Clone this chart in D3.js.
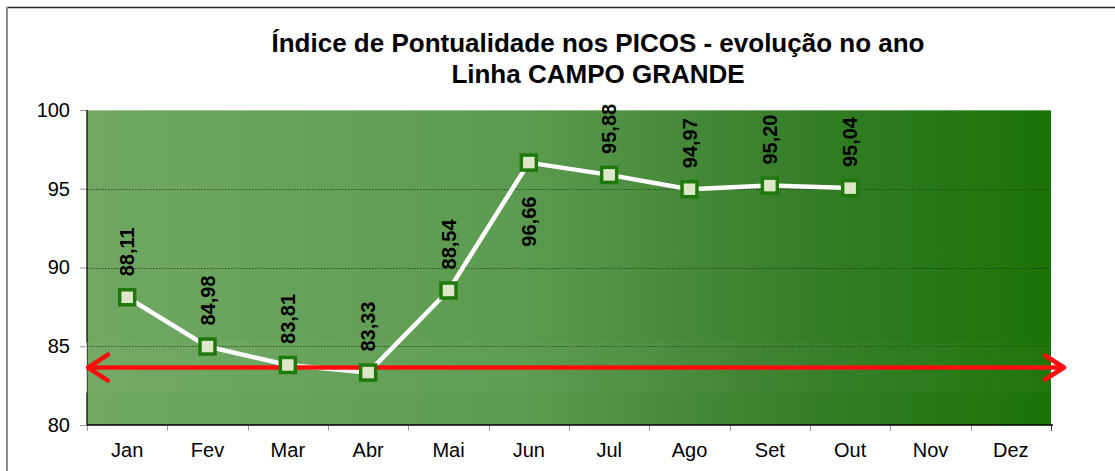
<!DOCTYPE html>
<html>
<head>
<meta charset="utf-8">
<script src="https://cdn.jsdelivr.net/npm/d3@7"></script>
<style>
  html, body { margin: 0; padding: 0; background: #fff; }
  svg text { font-family: "Liberation Sans", Arial, sans-serif; }
</style>
</head>
<body>
<svg id="chart" width="1115" height="471"></svg>
<script>
// Monthly punctuality index at peak hours
const meses = ["Jan", "Fev", "Mar", "Abr", "Mai", "Jun", "Jul", "Ago", "Set", "Out", "Nov", "Dez"];
const indice = [88.11, 84.98, 83.81, 83.33, 88.54, 96.66, 95.88, 94.97, 95.20, 95.04, null, null];
const yTicks = [80, 85, 90, 95, 100];
const meta = 83.65;            // reference level marked by the red arrow
const rotulosAbaixo = ["Jun"]; // months whose value label sits below the marker
const titulo = ["Índice de Pontualidade nos PICOS - evolução no ano", "Linha CAMPO GRANDE"];

const svg = d3.select("#chart");
const plot = { left: 87, right: 1051, top: 110, bottom: 425 };

const x = d3.scaleBand().domain(meses).range([plot.left, plot.right]);
const y = d3.scaleLinear().domain([80, 100]).range([plot.bottom, plot.top]);
const cx = m => x(m) + x.bandwidth() / 2;

const defs = svg.append("defs");
const grad = defs.append("linearGradient").attr("id", "fundo")
  .attr("x1", 0).attr("x2", 1).attr("y1", 0).attr("y2", 0);
grad.append("stop").attr("offset", 0).attr("stop-color", "#70a863");
grad.append("stop").attr("offset", 0.45).attr("stop-color", "#5c9b4f");
grad.append("stop").attr("offset", 0.75).attr("stop-color", "#357d28");
grad.append("stop").attr("offset", 1).attr("stop-color", "#1a7305");
defs.append("filter").attr("id", "suave")
  .append("feGaussianBlur").attr("stdDeviation", 0.6);

// chart frame
svg.append("line").attr("x1", 7).attr("x2", 1115).attr("y1", 7.5).attr("y2", 7.5)
  .attr("stroke", "#2b2b2b").attr("stroke-width", 1.5);
svg.append("line").attr("x1", 7).attr("x2", 7).attr("y1", 7).attr("y2", 471)
  .attr("stroke", "#8a8a8a").attr("stroke-width", 2);

// title
svg.append("g").selectAll("text").data(titulo).join("text")
  .attr("x", 598).attr("y", (d, i) => 52 + i * 31)
  .attr("text-anchor", "middle")
  .attr("font-size", 26).attr("font-weight", "bold").attr("fill", "#000")
  .text(d => d);

// plot background
svg.append("rect")
  .attr("x", plot.left).attr("y", plot.top)
  .attr("width", plot.right - plot.left).attr("height", plot.bottom - plot.top)
  .attr("fill", "url(#fundo)");
svg.append("line").attr("x1", plot.left).attr("x2", plot.right)
  .attr("y1", plot.top + 0.5).attr("y2", plot.top + 0.5)
  .attr("stroke", "#ffffff").attr("stroke-opacity", 0.35);

// gridlines
svg.append("g").selectAll("line").data(yTicks.filter(t => t > 80 && t < 100)).join("line")
  .attr("x1", plot.left).attr("x2", plot.right)
  .attr("y1", d => Math.round(y(d)) + 0.5).attr("y2", d => Math.round(y(d)) + 0.5)
  .attr("stroke", "#1d3518").attr("stroke-opacity", 0.75)
  .attr("stroke-dasharray", "1.5,1.5");

// y axis
const yAxis = svg.append("g").attr("transform", `translate(${plot.left},0)`)
  .call(d3.axisLeft(y).tickValues(yTicks).tickSize(7).tickPadding(10).tickFormat(d3.format("d")));
yAxis.select(".domain").remove();
yAxis.selectAll(".tick line").attr("stroke", "#9a9a9a");
yAxis.selectAll(".tick text").attr("font-size", 20).attr("fill", "#000")
  .attr("font-family", "'Liberation Sans', Arial, sans-serif");
svg.append("line").attr("x1", plot.left).attr("x2", plot.left)
  .attr("y1", plot.top).attr("y2", plot.bottom)
  .attr("stroke", "#000").attr("stroke-width", 1.2);

// x axis
const xAxis = svg.append("g").attr("transform", `translate(0,${plot.bottom})`)
  .call(d3.axisBottom(x).tickSize(0).tickPadding(18));
xAxis.select(".domain").remove();
xAxis.selectAll(".tick text").attr("font-size", 20).attr("fill", "#000")
  .attr("font-family", "'Liberation Sans', Arial, sans-serif");
const limites = meses.map(m => x(m)).concat([plot.right]);
svg.append("g").selectAll("line").data(limites).join("line")
  .attr("x1", d => Math.round(d) + 0.5).attr("x2", d => Math.round(d) + 0.5)
  .attr("y1", plot.bottom).attr("y2", plot.bottom + 6)
  .attr("stroke", (d, i) => i === limites.length - 1 ? "#444" : "#9a9a9a");
svg.append("line").attr("x1", plot.left).attr("x2", plot.right + 2)
  .attr("y1", plot.bottom).attr("y2", plot.bottom)
  .attr("stroke", "#000").attr("stroke-width", 1.5);

// series line
const pontos = meses.map((m, i) => ({ m, v: indice[i] })).filter(d => d.v != null);
svg.append("path").datum(pontos)
  .attr("fill", "none").attr("stroke", "#ffffff").attr("stroke-width", 4.5)
  .attr("stroke-linejoin", "round")
  .attr("d", d3.line().x(d => cx(d.m)).y(d => y(d.v)));

// red double-headed arrow at the reference level
const ya = y(meta);
svg.append("rect").attr("x", plot.left - 1).attr("y", ya - 25)
  .attr("width", plot.right - plot.left + 3).attr("height", 50)
  .attr("fill", "#ffffff").attr("fill-opacity", 0.025);
svg.append("line").attr("x1", plot.left - 0.5).attr("x2", plot.left - 0.5)
  .attr("y1", ya - 25).attr("y2", ya + 25).attr("stroke", "#d8d8d8").attr("stroke-width", 1.2);
const seta = svg.append("g").attr("filter", "url(#suave)")
  .attr("stroke", "#ff0a0a").attr("stroke-width", 4.5).attr("fill", "none")
  .attr("stroke-linecap", "round").attr("stroke-linejoin", "round");
seta.append("line").attr("x1", plot.left + 2).attr("x2", 1063).attr("y1", ya).attr("y2", ya);
seta.append("polyline").attr("points", `${plot.left + 21},${ya - 13} ${plot.left + 1},${ya} ${plot.left + 21},${ya + 13}`);
seta.append("polyline").attr("points", `1045,${ya - 12} 1064,${ya} 1045,${ya + 12}`);

// markers
svg.append("g").selectAll("rect").data(pontos).join("rect")
  .attr("x", d => cx(d.m) - 7.5).attr("y", d => y(d.v) - 7.5)
  .attr("width", 15).attr("height", 15)
  .attr("fill", "#dfe7c9").attr("stroke", "#1f780b").attr("stroke-width", 3.5);

// value labels (rotated)
svg.append("g").selectAll("text").data(pontos).join("text")
  .attr("transform", d => {
    const abaixo = rotulosAbaixo.includes(d.m);
    return `translate(${cx(d.m)},${abaixo ? y(d.v) + 34 : y(d.v) - 21}) rotate(-90)`;
  })
  .attr("text-anchor", d => rotulosAbaixo.includes(d.m) ? "end" : "start")
  .attr("dy", "0.36em")
  .attr("font-size", 20).attr("font-weight", "bold").attr("fill", "#000")
  .text(d => d3.format(".2f")(d.v).replace(".", ","));
</script>
</body>
</html>
